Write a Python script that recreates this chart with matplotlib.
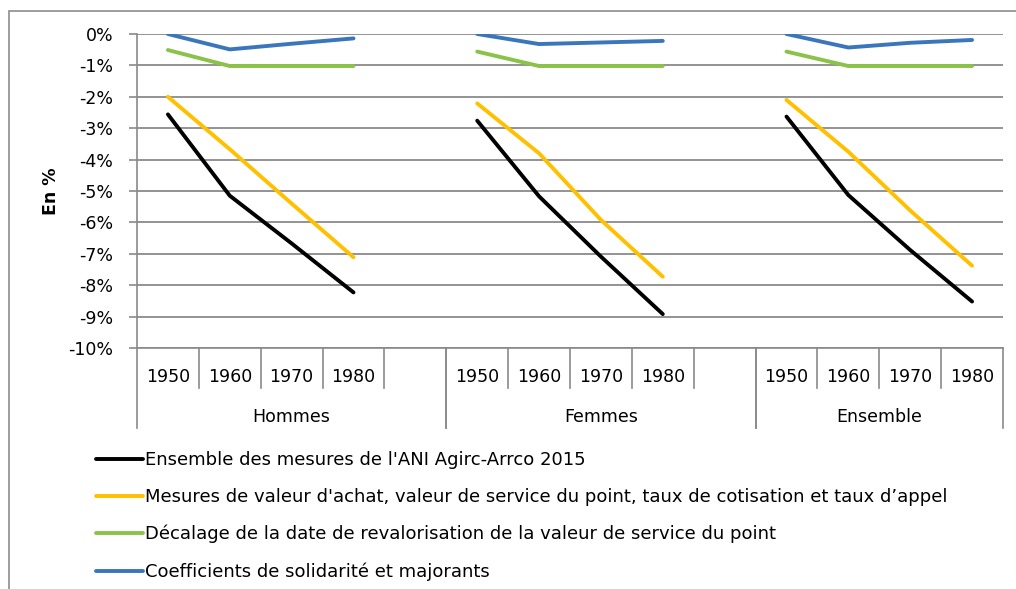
import numpy as np
import matplotlib
matplotlib.use('Agg')
import matplotlib.pyplot as plt
from matplotlib.patches import Rectangle
import matplotlib.transforms as mtransforms

plt.rcParams['font.family'] = ['DejaVu Sans']

groups = ['Hommes', 'Femmes', 'Ensemble']
years = ['1950', '1960', '1970', '1980']

series_names = [
    "Ensemble des mesures de l'ANI Agirc-Arrco 2015",
    "Mesures de valeur d'achat, valeur de service du point, taux de cotisation et taux d\u2019appel",
    "D\u00e9calage de la date de revalorisation de la valeur de service du point",
    "Coefficients de solidarit\u00e9 et majorants",
]
series_colors = ['#000000', '#FFC000', '#8BC34A', '#3A76BC']

# values in %, per group: Hommes, Femmes, Ensemble
ensemble_mesures = [[-2.56, -5.15, -6.67, -8.23],
                    [-2.76, -5.17, -7.09, -8.92],
                    [-2.63, -5.13, -6.88, -8.52]]
valeur_achat = [[-2.00, -3.67, -5.40, -7.11],
                [-2.21, -3.80, -5.92, -7.73],
                [-2.10, -3.75, -5.62, -7.38]]
decalage = [[-0.51, -1.02, -1.02, -1.02],
            [-0.56, -1.02, -1.02, -1.02],
            [-0.56, -1.02, -1.02, -1.02]]
coefficients = [[0.0, -0.49, -0.31, -0.14],
                [0.0, -0.32, -0.27, -0.22],
                [0.0, -0.43, -0.28, -0.19]]

all_series = [ensemble_mesures, valeur_achat, decalage, coefficients]

W, H = 1016, 589
fig = plt.figure(figsize=(W / 100, H / 100), dpi=100)

# outer chart frame (right and bottom edges fall outside the picture)
fig.add_artist(Rectangle((9 / W, -0.1), 1.2, 1 - 11 / H + 0.1, transform=fig.transFigure,
                         fill=False, edgecolor='#8c8c8c', lw=1.2))

ax_l, ax_r, ax_t, ax_b = 137, 1003, 34, 348
ax = fig.add_axes([ax_l / W, 1 - ax_b / H, (ax_r - ax_l) / W, (ax_b - ax_t) / H])

# slots: 5 per group for the first two groups, 4 for the last
group_starts = [0, 5, 10]
n_slots = 14

for name, color, vals in zip(series_names, series_colors, all_series):
    xs, ys = [], []
    for g, start in enumerate(group_starts):
        xs += [start + j + 0.5 for j in range(len(years))] + [np.nan]
        ys += list(vals[g]) + [np.nan]
    ax.plot(xs, ys, color=color, lw=2.8, solid_capstyle='round', solid_joinstyle='round',
            label=name, zorder=3)

ax.set_xlim(0, n_slots)
ax.set_ylim(-10, 0)
ax.set_yticks(np.arange(-10, 1, 1))
ax.set_yticklabels(['%d%%' % v for v in np.arange(-10, 1, 1)])
ax.yaxis.grid(True, color='#8a8a8a', lw=1.3)
ax.set_axisbelow(True)
ax.tick_params(axis='y', length=6, width=1.2, color='#8a8a8a', labelsize=12.5, pad=11)
ax.tick_params(axis='x', length=0, labelbottom=False)
for s in ['top', 'right']:
    ax.spines[s].set_visible(False)
ax.spines['left'].set_color('#8a8a8a')
ax.spines['left'].set_linewidth(1.2)
ax.spines['bottom'].set_color('#8a8a8a')
ax.spines['bottom'].set_linewidth(1.2)

ax.set_ylabel('En %', fontsize=12.5, fontweight='bold', labelpad=6)

# multi-level category axis
trans = mtransforms.blended_transform_factory(ax.transData, ax.transAxes)
ph = ax_b - ax_t
small = -40 / ph
big = -80 / ph
for g, start in enumerate(group_starts):
    n = 5 if g < 2 else 4
    for k in range(n + 1):
        x = start + k
        y_end = big if k in (0, n) else small
        ax.plot([x, x], [0, y_end], transform=trans, color='#8a8a8a', lw=1.2, clip_on=False)
    for j, yr in enumerate(years):
        ax.text(start + j + 0.5, -29 / ph, yr, transform=trans, ha='center', va='center',
                fontsize=12.5)
    ax.text(start + n / 2, -69 / ph, groups[g], transform=trans, ha='center', va='center',
            fontsize=12.5)

fig.legend(loc='upper left', bbox_to_anchor=(96 / W, 1 - 451 / H), frameon=False,
           fontsize=13, handlelength=2.6, handletextpad=0.1, labelspacing=1.05,
           borderaxespad=0, borderpad=0)

fig.savefig('out.png', dpi=100)
